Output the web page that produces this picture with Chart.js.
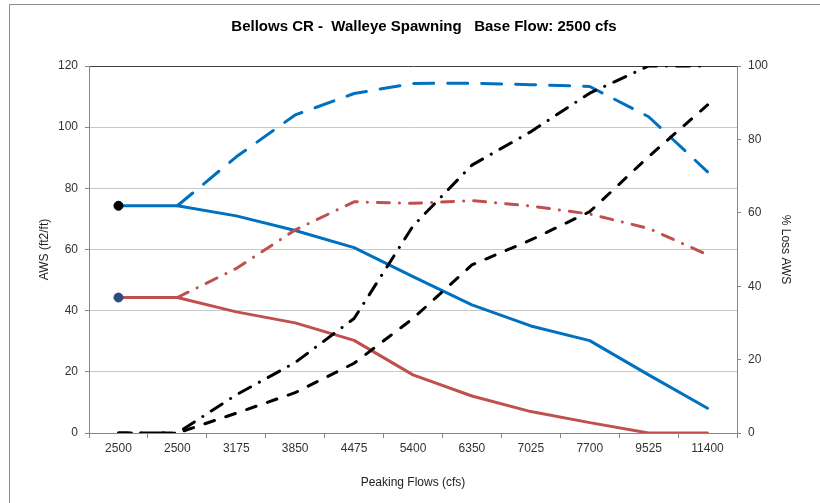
<!DOCTYPE html>
<html>
<head>
<meta charset="utf-8">
<script src="https://cdn.jsdelivr.net/npm/chart.js@4/dist/chart.umd.min.js"></script>
<style>
html,body{margin:0;padding:0;background:#fff;}
#wrap{width:820px;height:503px;position:relative;}
</style>
</head>
<body>
<div id="wrap"><canvas id="c" width="820" height="503"></canvas></div>
<script>
const chartTitle = 'Bellows CR -  Walleye Spawning   Base Flow: 2500 cfs';
const categories = ['2500','2500','3175','3850','4475','5400','6350','7025','7700','9525','11400'];
const awsBlue    = [74.3, 74.3, 71.0, 66.2, 60.6, 51.1, 41.9, 35.0, 30.2, 19.0, 8.1];
const awsRed     = [44.3, 44.3, 39.6, 36.0, 30.3, 19.0, 12.1, 7.0, 3.4, 0, 0];
const blueDashed = [null, 74.3, 90.3, 104.0, 111.0, 114.3, 114.4, 113.9, 113.3, 103.4, 85.4];
const redDashDot = [null, 44.3, 53.8, 66.4, 75.6, 75.1, 76.0, 74.2, 71.6, 66.9, 58.3];
const lossDashDot = [0, 0, 10.4, 19.2, 31.2, 56.4, 73.0, 82.1, 92.6, 100, 100];
const lossDashed  = [0, 0, 5.4, 11.0, 19.0, 31.2, 45.8, 52.6, 60.3, 75.3, 89.4];
const baseBlue = [74.3, null, null, null, null, null, null, null, null, null, null];
const baseRed  = [44.3, null, null, null, null, null, null, null, null, null, null];
const leftTicks = {min: 0, max: 120, step: 20};
const rightTicks = {min: 0, max: 100, step: 20};

const FONT = "'Liberation Sans', Arial, sans-serif";
const BLUE = '#0070C0', RED = '#C0504D', BLACK = '#000000';

const framePlugin = {
  id: 'frame',
  beforeDraw(chart) {
    const ctx = chart.ctx;
    ctx.save();
    ctx.fillStyle = '#ffffff';
    ctx.fillRect(0, 0, chart.width, chart.height);
    ctx.strokeStyle = '#8c8c8c';
    ctx.lineWidth = 1;
    ctx.beginPath();
    ctx.moveTo(9.5, chart.height);
    ctx.lineTo(9.5, 4.5);
    ctx.lineTo(chart.width, 4.5);
    ctx.stroke();
    ctx.restore();
  },
  afterDraw(chart) {
    const ctx = chart.ctx;
    ctx.save();
    ctx.fillStyle = '#000';
    ctx.font = 'bold 15px ' + FONT;
    ctx.textAlign = 'center';
    ctx.textBaseline = 'middle';
    ctx.fillText(chartTitle, 424, 27);
    ctx.restore();
  }
};

function lineDs(label, data, color, dash, axis) {
  return {
    label, data, yAxisID: axis, order: 1,
    borderColor: color, backgroundColor: color,
    borderWidth: 3, borderDash: dash, borderCapStyle: 'round', borderJoinStyle: 'round',
    pointRadius: 0, pointHoverRadius: 0, tension: 0, fill: false, spanGaps: false
  };
}

new Chart(document.getElementById('c'), {
  type: 'line',
  data: {
    labels: categories,
    datasets: [
      lineDs('Loss dashed', lossDashed, BLACK, [10, 12], 'y1'),
      lineDs('Loss dash-dot', lossDashDot, BLACK, [13, 10, 0.1, 10], 'y1'),
      lineDs('AWS upper dashed', blueDashed, BLUE, [20, 14], 'y'),
      lineDs('AWS lower dash-dot', redDashDot, RED, [12, 10, 0.1, 10], 'y'),
      lineDs('AWS blue', awsBlue, BLUE, [], 'y'),
      lineDs('AWS red', awsRed, RED, [], 'y'),
      {label: 'Base blue', data: baseBlue, yAxisID: 'y', showLine: false, order: 0,
       pointRadius: 4.5, pointBackgroundColor: '#000', pointBorderColor: '#000', borderColor: '#000'},
      {label: 'Base red', data: baseRed, yAxisID: 'y', showLine: false, order: 0,
       pointRadius: 4.5, pointBackgroundColor: '#2B4C7E', pointBorderColor: '#2B4C7E', borderColor: '#2B4C7E'}
    ]
  },
  options: {
    responsive: false,
    animation: false,
    devicePixelRatio: 1,
    layout: {padding: {top: 66, left: 0, right: 0, bottom: 0}},
    plugins: {legend: {display: false}, tooltip: {enabled: false}, title: {display: false}},
    scales: {
      x: {
        type: 'category', offset: true,
        grid: {display: true, offset: true, drawOnChartArea: false, drawTicks: true, tickLength: 5, tickColor: '#868686'},
        border: {display: true, color: '#868686', width: 1},
        ticks: {padding: 3, color: '#333', font: {family: FONT, size: 12}, maxRotation: 0, autoSkip: false},
        title: {display: true, text: 'Peaking Flows (cfs)', color: '#222', font: {family: FONT, size: 12}, padding: {top: 0, bottom: 12.8}},
        afterFit(s) { s.height = 70; }
      },
      y: {
        position: 'left', min: leftTicks.min, max: leftTicks.max,
        ticks: {stepSize: leftTicks.step, padding: 7, color: '#333', font: {family: FONT, size: 12}},
        grid: {color: (c) => (c.tick && c.tick.value === leftTicks.max) ? '#404040' : '#C8C8C8', lineWidth: 1, tickLength: 4, tickColor: '#868686'},
        border: {display: true, color: '#868686', width: 1},
        title: {display: true, text: 'AWS (ft2/ft)', color: '#222', font: {family: FONT, size: 12}, padding: {top: 37.8, bottom: 0}},
        afterFit(s) { s.width = 89; }
      },
      y1: {
        position: 'right', min: rightTicks.min, max: rightTicks.max,
        ticks: {stepSize: rightTicks.step, padding: 7, color: '#333', font: {family: FONT, size: 12}},
        grid: {drawOnChartArea: false, tickLength: 4, tickColor: '#868686'},
        border: {display: true, color: '#868686', width: 1},
        title: {display: true, text: '% Loss AWS', color: '#222', font: {family: FONT, size: 12}, padding: {top: 27.8, bottom: 0}},
        afterFit(s) { s.width = 83; }
      }
    }
  },
  plugins: [framePlugin]
});
</script>
</body>
</html>
